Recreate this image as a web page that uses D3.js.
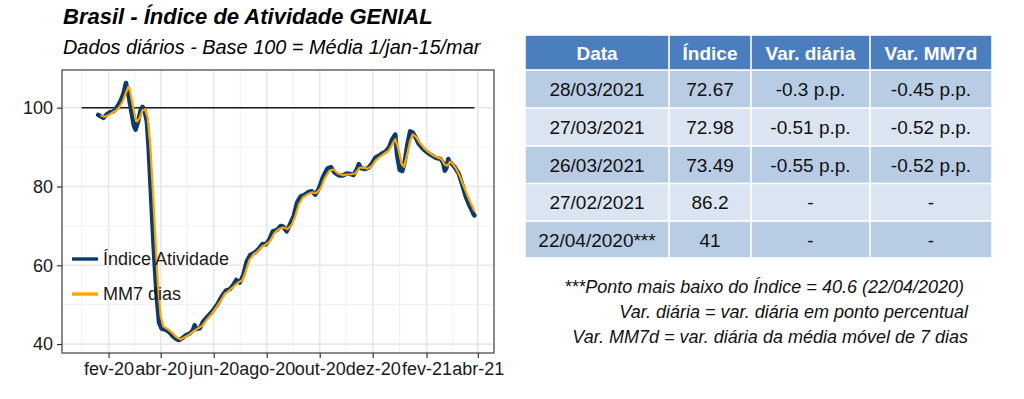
<!DOCTYPE html>
<html>
<head>
<meta charset="utf-8">
<script src="https://cdn.jsdelivr.net/npm/d3@7"></script>
<style>
  html, body { margin: 0; padding: 0; background: #fff; }
  svg { display: block; font-family: "Liberation Sans", Arial, sans-serif; }
</style>
</head>
<body>
<div id="chart"></div>
<script>
"use strict";

// ---- chart data ----
var indiceDates = [
  "2020-01-20", "2020-01-23", "2020-01-26", "2020-01-30", "2020-02-03", "2020-02-06",
  "2020-02-09", "2020-02-12", "2020-02-15", "2020-02-18", "2020-02-21", "2020-02-23",
  "2020-02-26", "2020-03-01", "2020-03-03", "2020-03-06", "2020-03-09", "2020-03-11",
  "2020-03-13", "2020-03-16", "2020-03-18", "2020-03-21", "2020-03-24", "2020-03-27",
  "2020-03-30", "2020-04-02", "2020-04-07", "2020-04-11", "2020-04-15", "2020-04-19",
  "2020-04-22", "2020-04-26", "2020-04-30", "2020-05-04", "2020-05-08", "2020-05-10",
  "2020-05-12", "2020-05-16", "2020-05-20", "2020-05-25", "2020-05-30", "2020-06-05",
  "2020-06-10", "2020-06-15", "2020-06-20", "2020-06-24", "2020-06-27", "2020-07-01",
  "2020-07-05", "2020-07-09", "2020-07-13", "2020-07-18", "2020-07-22", "2020-07-27",
  "2020-07-31", "2020-08-04", "2020-08-08", "2020-08-13", "2020-08-17", "2020-08-20",
  "2020-08-24", "2020-08-28", "2020-09-01", "2020-09-05", "2020-09-09", "2020-09-13",
  "2020-09-18", "2020-09-22", "2020-09-26", "2020-09-30", "2020-10-05", "2020-10-10",
  "2020-10-14", "2020-10-18", "2020-10-23", "2020-10-28", "2020-11-01", "2020-11-05",
  "2020-11-09", "2020-11-13", "2020-11-15", "2020-11-18", "2020-11-22", "2020-11-26",
  "2020-11-30", "2020-12-04", "2020-12-08", "2020-12-12", "2020-12-16", "2020-12-20",
  "2020-12-23", "2020-12-27", "2020-12-29", "2021-01-01", "2021-01-04", "2021-01-07",
  "2021-01-10", "2021-01-13", "2021-01-16", "2021-01-19", "2021-01-23", "2021-01-28",
  "2021-02-02", "2021-02-06", "2021-02-12", "2021-02-17", "2021-02-20", "2021-02-22",
  "2021-02-24", "2021-02-26", "2021-02-27", "2021-03-01", "2021-03-05", "2021-03-10",
  "2021-03-14", "2021-03-18", "2021-03-22", "2021-03-26", "2021-03-27", "2021-03-28"
];
var indiceValues = [
  98.2, 97.8, 97.4, 98.3, 98.9, 99.0,
  99.6, 100.6, 101.8, 103.5, 106.3, 104.5,
  100.5, 95.5, 94.4, 96.5, 99.5, 100.2,
  99.6, 96.5, 90.0, 77.0, 64.0, 53.0,
  45.5, 43.9, 43.6, 43.0, 42.0, 41.3,
  41.0, 41.5, 42.3, 42.6, 43.5, 44.8,
  43.8, 44.0, 45.8, 47.0, 48.2, 50.0,
  52.0, 53.6, 54.0, 55.2, 56.3, 55.6,
  57.5, 61.0, 62.6, 63.2, 64.0, 65.4,
  65.3, 66.5, 68.6, 69.0, 70.0, 69.8,
  68.6, 70.5, 72.5, 76.0, 77.5, 77.8,
  78.6, 78.8, 77.9, 79.5, 82.5, 84.6,
  84.9, 83.5, 82.8, 82.8, 83.3, 83.2,
  82.9, 84.5, 85.7, 84.6, 84.4, 84.7,
  85.8, 87.3, 87.8, 88.4, 88.9, 90.0,
  91.8, 93.2, 88.0, 84.2, 83.9, 86.5,
  90.8, 94.0, 93.7, 92.6, 90.8, 89.5,
  88.6, 88.0, 87.2, 87.0, 86.0, 84.0,
  84.8, 87.0, 86.2, 86.0, 85.0, 83.3,
  80.5, 77.5, 75.3, 73.49, 72.98, 72.67
];

var mm7Dates = [
  "2020-01-24", "2020-01-28", "2020-02-01", "2020-02-05", "2020-02-09", "2020-02-13",
  "2020-02-17", "2020-02-21", "2020-02-24", "2020-02-26", "2020-02-29", "2020-03-03",
  "2020-03-05", "2020-03-08", "2020-03-11", "2020-03-14", "2020-03-17", "2020-03-20",
  "2020-03-23", "2020-03-26", "2020-03-29", "2020-04-01", "2020-04-04", "2020-04-09",
  "2020-04-14", "2020-04-19", "2020-04-24", "2020-04-29", "2020-05-04", "2020-05-09",
  "2020-05-14", "2020-05-19", "2020-05-24", "2020-05-29", "2020-06-04", "2020-06-09",
  "2020-06-14", "2020-06-19", "2020-06-24", "2020-06-29", "2020-07-04", "2020-07-08",
  "2020-07-12", "2020-07-17", "2020-07-22", "2020-07-27", "2020-08-01", "2020-08-05",
  "2020-08-10", "2020-08-15", "2020-08-20", "2020-08-25", "2020-08-30", "2020-09-03",
  "2020-09-07", "2020-09-12", "2020-09-17", "2020-09-22", "2020-09-27", "2020-10-02",
  "2020-10-07", "2020-10-12", "2020-10-17", "2020-10-22", "2020-10-27", "2020-11-01",
  "2020-11-06", "2020-11-11", "2020-11-16", "2020-11-20", "2020-11-25", "2020-11-30",
  "2020-12-04", "2020-12-09", "2020-12-14", "2020-12-19", "2020-12-23", "2020-12-27",
  "2020-12-30", "2021-01-03", "2021-01-06", "2021-01-09", "2021-01-13", "2021-01-16",
  "2021-01-20", "2021-01-24", "2021-01-29", "2021-02-03", "2021-02-08", "2021-02-13",
  "2021-02-18", "2021-02-22", "2021-02-25", "2021-02-28", "2021-03-03", "2021-03-07",
  "2021-03-11", "2021-03-15", "2021-03-19", "2021-03-23", "2021-03-26", "2021-03-28"
];
var mm7Values = [
  97.9, 97.7, 98.1, 98.7, 99.2, 100.0,
  101.5, 103.8, 105.4, 104.0, 100.5, 97.2,
  96.5, 97.5, 99.3, 99.6, 97.5, 90.5,
  79.0, 66.0, 54.5, 47.0, 44.5, 43.8,
  42.9, 41.8, 41.2, 41.8, 42.4, 43.3,
  44.0, 44.7, 46.2, 47.5, 49.3, 51.0,
  52.8, 53.6, 54.6, 55.6, 56.2, 58.5,
  61.3, 62.8, 63.6, 64.8, 65.4, 66.2,
  68.2, 69.2, 69.6, 69.2, 70.3, 72.5,
  75.5, 77.3, 78.0, 78.5, 78.3, 79.5,
  82.2, 84.0, 84.3, 83.3, 82.9, 83.0,
  83.1, 83.3, 84.8, 84.8, 84.5, 85.2,
  86.5, 87.5, 88.3, 89.0, 90.5, 92.0,
  90.0, 86.0, 85.0, 87.5, 91.5, 93.2,
  92.6, 91.2, 89.8, 88.8, 88.0, 87.4,
  87.0, 85.5, 85.3, 86.3, 85.8, 84.5,
  82.8, 80.5, 78.3, 76.2, 74.8, 73.8
];

// reference line (base 100)
var baseStart = "2020-01-01";
var baseEnd = "2021-03-28";
var baseValue = 100;

// axis ticks
var xTickDates = ["2020-02-01", "2020-04-01", "2020-06-01", "2020-08-01",
                  "2020-10-01", "2020-12-01", "2021-02-01", "2021-04-01"];
var xTickLabels = ["fev-20", "abr-20", "jun-20", "ago-20", "out-20", "dez-20", "fev-21", "abr-21"];
var yTicks = [40, 60, 80, 100];
var yMinorTicks = [30, 50, 70, 90, 110];

var seriesNames = ["Índice Atividade", "MM7 dias"];
var seriesColors = ["#0b3b6e", "#ffa500"];

// table
var tableHeader = ["Data", "Índice", "Var. diária", "Var. MM7d"];
var tableDates = ["28/03/2021", "27/03/2021", "26/03/2021", "27/02/2021", "22/04/2020***"];
var tableIndice = ["72.67", "72.98", "73.49", "86.2", "41"];
var tableVarDiaria = ["-0.3 p.p.", "-0.51 p.p.", "-0.55 p.p.", "-", "-"];
var tableVarMM7 = ["-0.45 p.p.", "-0.52 p.p.", "-0.52 p.p.", "-", "-"];

var footnotes = [
  "***Ponto mais baixo do Índice = 40.6 (22/04/2020)",
  "Var. diária = var. diária em ponto percentual",
  "Var. MM7d = var. diária da média móvel de 7 dias"
];

(function () {
  var width = 1024, height = 399;
  var parse = d3.timeParse("%Y-%m-%d");

  // panel box
  var panel = { left: 62, right: 494, top: 70, bottom: 353 };

  var svg = d3.select("#chart").append("svg")
    .attr("width", width)
    .attr("height", height);

  var indice = indiceDates.map(function (d, i) { return { date: parse(d), value: indiceValues[i] }; });
  var mm7 = mm7Dates.map(function (d, i) { return { date: parse(d), value: mm7Values[i] }; });

  // ggplot-like 5% expansion of the data range
  var xExtent = [parse(baseStart), parse(baseEnd)];
  var xPad = (xExtent[1] - xExtent[0]) * 0.05;
  var x = d3.scaleTime()
    .domain([new Date(+xExtent[0] - xPad), new Date(+xExtent[1] + xPad)])
    .range([panel.left, panel.right]);

  var allVals = indiceValues.concat(mm7Values);
  var yExt = d3.extent(allVals);
  var yPad = (yExt[1] - yExt[0]) * 0.05;
  var y = d3.scaleLinear()
    .domain([yExt[0] - yPad, yExt[1] + yPad])
    .range([panel.bottom, panel.top]);

  // ---- titles ----
  svg.append("text")
    .attr("x", 63).attr("y", 24)
    .style("font-size", "22px").style("font-weight", "bold").style("font-style", "italic")
    .attr("fill", "#000")
    .text("Brasil - Índice de Atividade GENIAL");
  svg.append("text")
    .attr("x", 63).attr("y", 54)
    .style("font-size", "19.9px").style("font-style", "italic")
    .attr("fill", "#000")
    .text("Dados diários - Base 100 = Média 1/jan-15/mar");

  // ---- grid ----
  var grid = svg.append("g");
  var majorX = xTickDates.map(parse);
  var ext = [d3.timeMonth.offset(majorX[0], -2)].concat(majorX, [d3.timeMonth.offset(majorX[majorX.length - 1], 2)]);
  var minorX = [];
  for (var i = 0; i < ext.length - 1; i++) {
    minorX.push(new Date((+ext[i] + +ext[i + 1]) / 2));
  }
  var xd = x.domain();
  minorX = minorX.filter(function (d) { return d > xd[0] && d < xd[1]; });
  var yd = y.domain();
  var minorY = yMinorTicks.filter(function (v) { return v > yd[0] && v < yd[1]; });

  grid.selectAll(".minor-y").data(minorY).enter().append("line")
    .attr("x1", panel.left).attr("x2", panel.right)
    .attr("y1", function (d) { return y(d); }).attr("y2", function (d) { return y(d); })
    .attr("stroke", "#f0f0f0").attr("stroke-width", 1);
  grid.selectAll(".minor-x").data(minorX).enter().append("line")
    .attr("y1", panel.top).attr("y2", panel.bottom)
    .attr("x1", function (d) { return x(d); }).attr("x2", function (d) { return x(d); })
    .attr("stroke", "#f0f0f0").attr("stroke-width", 1);
  grid.selectAll(".major-y").data(yTicks).enter().append("line")
    .attr("x1", panel.left).attr("x2", panel.right)
    .attr("y1", function (d) { return y(d); }).attr("y2", function (d) { return y(d); })
    .attr("stroke", "#e8e8e8").attr("stroke-width", 1.6);
  grid.selectAll(".major-x").data(majorX).enter().append("line")
    .attr("y1", panel.top).attr("y2", panel.bottom)
    .attr("x1", function (d) { return x(d); }).attr("x2", function (d) { return x(d); })
    .attr("stroke", "#e8e8e8").attr("stroke-width", 1.6);

  // ---- base 100 line ----
  svg.append("line")
    .attr("x1", x(parse(baseStart))).attr("x2", x(parse(baseEnd)))
    .attr("y1", y(baseValue)).attr("y2", y(baseValue))
    .attr("stroke", "#1a1a1a").attr("stroke-width", 1.5);

  // ---- series ----
  var line = d3.line()
    .x(function (d) { return x(d.date); })
    .y(function (d) { return y(d.value); });

  svg.append("path").datum(indice)
    .attr("d", line)
    .attr("fill", "none").attr("stroke", seriesColors[0])
    .attr("stroke-width", 4.4).attr("stroke-linejoin", "round").attr("stroke-linecap", "round");
  svg.append("path").datum(mm7)
    .attr("d", line)
    .attr("fill", "none").attr("stroke", seriesColors[1])
    .attr("stroke-width", 2.2).attr("stroke-linejoin", "round").attr("stroke-linecap", "round");

  // ---- panel border ----
  svg.append("rect")
    .attr("x", panel.left).attr("y", panel.top)
    .attr("width", panel.right - panel.left).attr("height", panel.bottom - panel.top)
    .attr("fill", "none").attr("stroke", "#4d4d4d").attr("stroke-width", 1.3);

  // ---- axes ----
  var xAxis = d3.axisBottom(x)
    .tickValues(majorX)
    .tickSize(5)
    .tickPadding(4)
    .tickFormat(function (d, i) { return xTickLabels[i]; });
  var gx = svg.append("g").attr("transform", "translate(0," + panel.bottom + ")").call(xAxis);
  gx.select(".domain").remove();
  gx.selectAll(".tick line").attr("stroke", "#333").attr("stroke-width", 1.2);
  gx.selectAll(".tick text")
    .attr("fill", "#1a1a1a")
    .style("font-size", "18px")
    .style("font-family", "\"Liberation Sans\", Arial, sans-serif");

  var yAxis = d3.axisLeft(y)
    .tickValues(yTicks)
    .tickSize(5)
    .tickPadding(4);
  var gy = svg.append("g").attr("transform", "translate(" + panel.left + ",0)").call(yAxis);
  gy.select(".domain").remove();
  gy.selectAll(".tick line").attr("stroke", "#333").attr("stroke-width", 1.2);
  gy.selectAll(".tick text")
    .attr("fill", "#1a1a1a")
    .style("font-size", "18px")
    .style("font-family", "\"Liberation Sans\", Arial, sans-serif");

  // ---- legend (inside panel, no background) ----
  var legend = svg.append("g").attr("transform", "translate(72,259)");
  seriesNames.forEach(function (name, i) {
    var row = legend.append("g").attr("transform", "translate(0," + (i * 35) + ")");
    row.append("line")
      .attr("x1", 0).attr("x2", 26).attr("y1", 0).attr("y2", 0)
      .attr("stroke", seriesColors[i]).attr("stroke-width", 3.4);
    row.append("text")
      .attr("x", 31).attr("y", 0).attr("dy", "0.36em")
      .style("font-size", "18px")
      .attr("fill", "#1a1a1a")
      .text(name);
  });

  // ---- table ----
  var colEdges = [525, 669, 751, 870, 992];
  var rowEdges = [35, 70, 108, 146, 183.5, 221, 258];
  var rows = tableDates.map(function (d, i) {
    return [d, tableIndice[i], tableVarDiaria[i], tableVarMM7[i]];
  });
  var tbl = svg.append("g");
  var allRows = [tableHeader].concat(rows);
  allRows.forEach(function (cells, r) {
    var fill = r === 0 ? "#4a7ebf" : (r % 2 === 1 ? "#b8cce4" : "#dbe5f1");
    cells.forEach(function (txt, c) {
      var x0 = colEdges[c], x1 = colEdges[c + 1];
      var y0 = rowEdges[r], y1 = rowEdges[r + 1];
      tbl.append("rect")
        .attr("x", x0 + 0.8).attr("y", y0 + 0.8)
        .attr("width", x1 - x0 - 1.6).attr("height", y1 - y0 - 1.6)
        .attr("fill", fill);
      tbl.append("text")
        .attr("x", (x0 + x1) / 2)
        .attr("y", (y0 + y1) / 2 + 7)
        .attr("text-anchor", "middle")
        .style("font-size", "19px")
        .style("font-weight", r === 0 ? "bold" : "normal")
        .attr("fill", r === 0 ? "#fff" : "#111")
        .text(txt);
    });
  });

  // ---- footnotes ----
  var notesY = [293, 318, 343];
  var notesX = [964, 968, 968];
  footnotes.forEach(function (t, i) {
    svg.append("text")
      .attr("x", notesX[i]).attr("y", notesY[i])
      .attr("text-anchor", "end")
      .style("font-size", "18px").style("font-style", "italic")
      .attr("fill", "#111")
      .text(t);
  });
})();
</script>
</body>
</html>
